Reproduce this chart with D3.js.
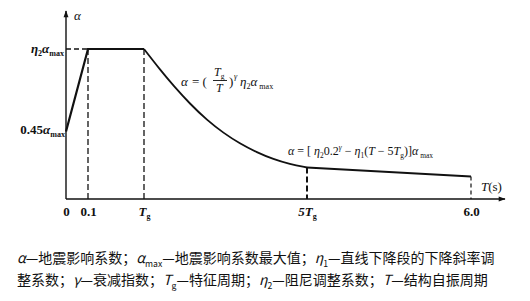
<!DOCTYPE html>
<html>
<head>
<meta charset="utf-8">
<script src="https://cdn.jsdelivr.net/npm/d3@7"></script>
<style>
  body { margin: 0; background: #fff; }
  text { fill: #111; }
  .math { font-family: "Liberation Serif", "DejaVu Serif", serif; }
  .cap { font-family: "Noto Sans CJK SC", sans-serif; }
</style>
</head>
<body>
<div id="chart"></div>
<script>
// schematic periods (Tg taken as 0.4 s so that 5Tg = 2.0 s)
let Tg = 0.4;
let keyPeriods = [0, 0.1, Tg, 5 * Tg, 6.0];
let tickLabels = [["0"], ["0.1"], ["T", "g"], ["5T", "g"], ["6.0"]];

// alpha / alpha_max (eta2 = 1)
let rampT = [0, 0.1, Tg];
let rampA = [0.45, 1, 1];
let decayT = [0.4, 0.56, 0.69, 0.85, 1.02, 1.18, 1.34, 1.51, 1.67, 1.83, 2.0];
let decayA = [1, 0.86, 0.755, 0.635, 0.525, 0.44, 0.37, 0.31, 0.265, 0.232, 0.21];
let tailT = [2.0, 6.0];
let tailA = [0.21, 0.15];

let width = 530, height = 301;

let svg = d3.select("#chart").append("svg").attr("width", width).attr("height", height);

// piecewise scale, the figure is not drawn to scale
let x = d3.scaleLinear().domain(keyPeriods).range([66, 88, 144, 307, 471]);
let y = d3.scaleLinear().domain([0, 1]).range([199, 49]);

// arrow heads
let defs = svg.append("defs");
defs.append("marker").attr("id", "arr").attr("viewBox", "0 0 10 10").attr("refX", 9).attr("refY", 5)
    .attr("markerWidth", 9).attr("markerHeight", 7).attr("markerUnits", "userSpaceOnUse").attr("orient", "auto")
    .append("path").attr("d", "M0,1.5 L10,5 L0,8.5 Z").attr("fill", "#111");

// axes
svg.append("line").attr("x1", x(0)).attr("x2", 505).attr("y1", y(0)).attr("y2", y(0))
    .attr("stroke", "#111").attr("stroke-width", 1.6).attr("marker-end", "url(#arr)");
svg.append("line").attr("x1", x(0)).attr("x2", x(0)).attr("y1", y(0)).attr("y2", 11)
    .attr("stroke", "#111").attr("stroke-width", 1.4).attr("marker-end", "url(#arr)");

let xAxis = d3.axisBottom(x).tickValues(keyPeriods).tickSize(0).tickPadding(6).tickFormat("");
let gx = svg.append("g").attr("transform", `translate(0, ${y(0)})`).call(xAxis);
gx.select(".domain").remove();
gx.selectAll(".tick").each(function(d, i) {
    let t = d3.select(this).append("text").attr("class", "math").attr("y", 17)
        .attr("text-anchor", "middle").attr("font-size", 13).attr("font-weight", "bold").style("fill", "#111");
    let lab = tickLabels[i];
    if (lab.length == 1) {
        t.text(lab[0]);
    } else {
        t.append("tspan").attr("font-style", "italic").text(lab[0]);
        t.append("tspan").attr("font-size", 8).attr("dy", 3).text(lab[1]);
    }
});

// dashed guides
let dash = svg.append("g").attr("stroke", "#111").attr("fill", "none");
dash.append("line").attr("x1", x(0)).attr("x2", x(0.1)).attr("y1", y(1)).attr("y2", y(1))
    .attr("stroke-width", 1.3).attr("stroke-dasharray", "5,3");
[0.1, Tg].forEach(function(t) {
    dash.append("line").attr("x1", x(t)).attr("x2", x(t)).attr("y1", y(1)).attr("y2", y(0))
        .attr("stroke-width", 1.3).attr("stroke-dasharray", "6,3");
});
dash.append("line").attr("x1", x(tailT[0])).attr("x2", x(tailT[0])).attr("y1", y(tailA[0])).attr("y2", y(0))
    .attr("stroke-width", 2).attr("stroke-dasharray", "6,3");
dash.append("line").attr("x1", x(tailT[1])).attr("x2", x(tailT[1])).attr("y1", y(tailA[1])).attr("y2", y(0))
    .attr("stroke-width", 1.2).attr("stroke-dasharray", "4,3");

// the curve
let lin = d3.line().x(d => x(d[0])).y(d => y(d[1]));
let smooth = d3.line().x(d => x(d[0])).y(d => y(d[1])).curve(d3.curveBasis);
svg.append("path").attr("d", lin(d3.zip(rampT, rampA))).attr("fill", "none").attr("stroke", "#111").attr("stroke-width", 2.2);
svg.append("path").attr("d", smooth(d3.zip(decayT, decayA))).attr("fill", "none").attr("stroke", "#111").attr("stroke-width", 1.8);
svg.append("path").attr("d", lin(d3.zip(tailT, tailA))).attr("fill", "none").attr("stroke", "#111").attr("stroke-width", 2);

// rich text helper: parts are [text, style] with style i / sub / sup / ""
function rich(sel, parts, size) {
    let base = 0;
    parts.forEach(function(p) {
        let s = sel.append("tspan").text(p[0]);
        let st = p[1] || "";
        let shift = 0;
        if (st.includes("i")) s.attr("font-style", "italic");
        if (st.includes("sub")) { s.attr("font-size", size * 0.62); shift = size * 0.25; }
        if (st.includes("sup")) { s.attr("font-size", size * 0.62); shift = -size * 0.4; }
        if (shift != base) s.attr("dy", shift - base);
        base = shift;
    });
}

// y labels
let yl = svg.append("g").attr("class", "math").attr("font-weight", "bold").attr("text-anchor", "end");
rich(yl.append("text").attr("x", x(0) - 2).attr("y", y(1) + 4).attr("font-size", 13),
    [["η", "i"], ["2", "sub"], ["α", "i"], ["max", "sub"]], 13);
rich(yl.append("text").attr("x", x(0) - 1).attr("y", y(0.45) + 2).attr("font-size", 13),
    [["0.45"], ["α", "i"], ["max", "sub"]], 13);

svg.append("text").attr("class", "math").attr("x", x(0) + 8).attr("y", 20).attr("font-size", 13)
    .attr("font-style", "italic").text("α");
rich(svg.append("text").attr("class", "math").attr("x", 481).attr("y", 191).attr("font-size", 13),
    [["T", "i"], ["(s)"]], 13);

// formula near the decay part
let f1 = svg.append("g").attr("class", "math").attr("font-size", 13);
f1.append("text").attr("x", 181).attr("y", 86).attr("font-style", "italic").text("α");
f1.append("text").attr("x", 192).attr("y", 86).text("= (");
rich(f1.append("text").attr("x", 214).attr("y", 76).attr("font-size", 12), [["T", "i"], ["g", "sub"]], 12);
f1.append("line").attr("x1", 213).attr("x2", 227).attr("y1", 80.5).attr("y2", 80.5).attr("stroke", "#111").attr("stroke-width", 0.9);
f1.append("text").attr("x", 216).attr("y", 92).attr("font-size", 12).attr("font-style", "italic").text("T");
f1.append("text").attr("x", 229).attr("y", 86).text(")");
f1.append("text").attr("x", 234).attr("y", 79).attr("font-size", 8).attr("font-style", "italic").text("γ");
rich(f1.append("text").attr("x", 240).attr("y", 86).attr("font-size", 13),
    [["η", "i"], ["2", "sub"], ["α", "i"], [" max", "sub"]], 13);

// formula above the tail
rich(svg.append("text").attr("class", "math").attr("x", 288).attr("y", 155).attr("font-size", 12),
    [["α", "i"], [" = [ "], ["η", "i"], ["2", "sub"], ["0.2"], ["γ", "i sup"], [" − "], ["η", "i"], ["1", "sub"],
     ["("], ["T", "i"], [" − 5"], ["T", "i"], ["g", "sub"], [")]"], ["α", "i"], [" max", "sub"]], 12);

// caption
let cap1 = [["α", "i"], ["—地震影响系数；"], ["α", "i"], ["max", "sub"], ["—地震影响系数最大值；"],
    ["η", "i"], ["1", "sub"], ["—直线下降段的下降斜率调"]];
let cap2 = [["整系数；"], ["γ", "i"], ["—衰减指数；"], ["T", "i"], ["g", "sub"], ["—特征周期；"],
    ["η", "i"], ["2", "sub"], ["—阻尼调整系数；"], ["T", "i"], ["—结构自振周期"]];
rich(svg.append("text").attr("class", "cap").attr("x", 17).attr("y", 263).attr("font-size", 14), cap1, 14);
rich(svg.append("text").attr("class", "cap").attr("x", 17).attr("y", 285).attr("font-size", 14), cap2, 14);
</script>
</body>
</html>
